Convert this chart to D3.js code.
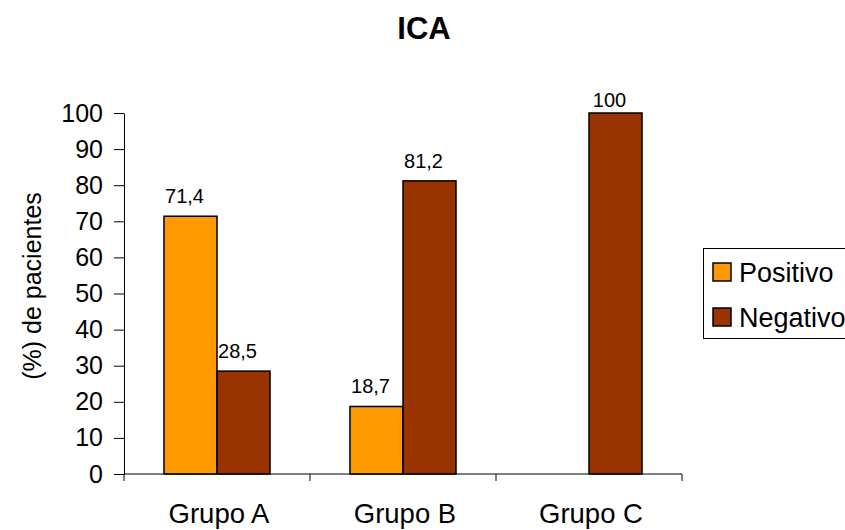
<!DOCTYPE html>
<html>
<head>
<meta charset="utf-8">
<script src="https://cdn.jsdelivr.net/npm/d3@7/dist/d3.min.js"></script>
<style>
  html, body { margin: 0; padding: 0; background: #fff; overflow: hidden; }
  svg { display: block; font-family: "Liberation Sans", Arial, sans-serif; }
</style>
</head>
<body>
<svg id="chart" width="845" height="530"></svg>
<script>
// Chart data
const title = "ICA";
const categories = ["Grupo A", "Grupo B", "Grupo C"];
const seriesNames = ["Positivo", "Negativo"];
const positivo = [71.4, 18.7, 0];
const negativo = [28.5, 81.2, 100];
const yTicks = [0, 10, 20, 30, 40, 50, 60, 70, 80, 90, 100];
const yLabel = "(%) de pacientes";
const colors = ["#FF9900", "#993300"];

const series = [positivo, negativo];
const fmt = v => String(v).replace(".", ",");

const svg = d3.select("#chart");
const plot = { left: 124, right: 682, top: 113, bottom: 474 };

const x = d3.scaleBand().domain(categories).range([plot.left, plot.right]).paddingInner(0).paddingOuter(0);
const barW = x.bandwidth() * 0.285;
const xs = d3.scaleBand().domain(seriesNames).range([0, barW * 2]);
const y = d3.scaleLinear().domain([0, 100]).range([plot.bottom, plot.top]);

// Title
svg.append("text")
  .attr("x", 424).attr("y", 39)
  .attr("text-anchor", "middle")
  .attr("font-size", 31).attr("font-weight", "bold")
  .text(title);

// Bars
categories.forEach((cat, i) => {
  const gx = x(cat) + x.bandwidth() / 2 - barW;
  series.forEach((vals, s) => {
    const v = vals[i];
    if (v <= 0) return;
    svg.append("rect")
      .attr("x", gx + xs(seriesNames[s]))
      .attr("y", y(v))
      .attr("width", xs.bandwidth())
      .attr("height", y(0) - y(v))
      .attr("fill", colors[s])
      .attr("stroke", "#000").attr("stroke-width", 1.5);
  });
});

// Value labels
categories.forEach((cat, i) => {
  const gx = x(cat) + x.bandwidth() / 2 - barW;
  series.forEach((vals, s) => {
    const v = vals[i];
    if (v <= 0) return;
    const cx = gx + xs(seriesNames[s]) + xs.bandwidth() / 2 - 6;
    const ty = Math.max(y(v) - 13, y(100) - 6);
    svg.append("text")
      .attr("x", cx).attr("y", ty)
      .attr("text-anchor", "middle")
      .attr("font-size", 20)
      .text(fmt(v));
  });
});

// Y axis
const yAxis = d3.axisLeft(y).tickValues(yTicks).tickSize(10).tickPadding(11).tickSizeOuter(0);
const gy = svg.append("g").attr("transform", `translate(${plot.left},0)`).call(yAxis);
gy.select(".domain").attr("stroke", "#000");
gy.selectAll(".tick line").attr("stroke", "#000");
gy.selectAll("text").attr("font-size", 25).attr("fill", "#000")
  .attr("font-family", "'Liberation Sans', Arial, sans-serif");

// X axis: ticks at category boundaries
svg.append("line")
  .attr("x1", plot.left).attr("x2", plot.right)
  .attr("y1", plot.bottom).attr("y2", plot.bottom)
  .attr("stroke", "#000");
const bounds = categories.map(c => x(c)).concat([x(categories[categories.length - 1]) + x.bandwidth()]);
svg.selectAll(".xtick").data(bounds).enter().append("line")
  .attr("x1", d => d).attr("x2", d => d)
  .attr("y1", plot.bottom).attr("y2", plot.bottom + 7)
  .attr("stroke", "#000");
svg.selectAll(".xlab").data(categories).enter().append("text")
  .attr("x", d => x(d) + x.bandwidth() / 2 + 2)
  .attr("y", 523)
  .attr("text-anchor", "middle")
  .attr("font-size", 27.5)
  .text(d => d);

// Y axis title
svg.append("text")
  .attr("transform", "translate(41,286) rotate(-90)")
  .attr("text-anchor", "middle")
  .attr("font-size", 25)
  .text(yLabel);

// Legend
const lg = svg.append("g");
lg.append("rect")
  .attr("x", 703.5).attr("y", 248.5).attr("width", 160).attr("height", 90)
  .attr("fill", "#fff").attr("stroke", "#000");
seriesNames.forEach((name, s) => {
  const ly = 263 + s * 45;
  lg.append("rect")
    .attr("x", 713).attr("y", ly).attr("width", 18).attr("height", 18)
    .attr("fill", colors[s]).attr("stroke", "#000").attr("stroke-width", 1.5);
  lg.append("text")
    .attr("x", 739).attr("y", ly + 19)
    .attr("font-size", 27)
    .text(name);
});
</script>
</body>
</html>
